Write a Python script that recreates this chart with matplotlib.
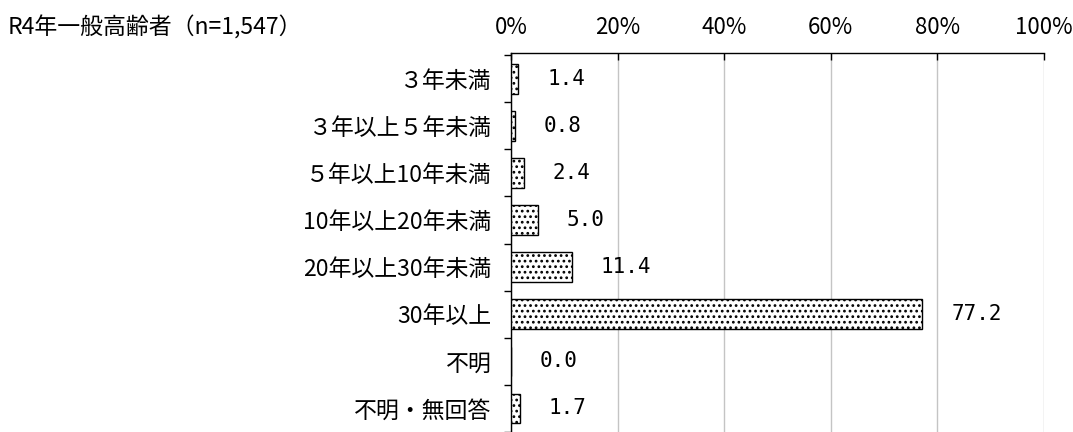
import matplotlib
matplotlib.use("Agg")
import matplotlib.pyplot as plt
from matplotlib import font_manager
import numpy as np

categories = ["３年未満", "３年以上５年未満", "５年以上10年未満", "10年以上20年未満",
              "20年以上30年未満", "30年以上", "不明", "不明・無回答"]
values = [1.4, 0.8, 2.4, 5.0, 11.4, 77.2, 0.0, 1.7]
xticks = [0, 20, 40, 60, 80, 100]
xtick_labels = ["0%", "20%", "40%", "60%", "80%", "100%"]
title = "R4年一般高齢者（n=1,547）"

plt.rcParams['font.family'] = ['Noto Sans CJK JP', 'DejaVu Sans']
plt.rcParams['hatch.color'] = '#808080'
plt.rcParams['hatch.linewidth'] = 1.2

names = {f.name for f in font_manager.fontManager.ttflist}
narrow = 'Liberation Sans Narrow' if 'Liberation Sans Narrow' in names else 'Noto Sans CJK JP'

W, H = 1073, 432
fig = plt.figure(figsize=(W / 100, H / 100), dpi=100)
ax = fig.add_axes([511 / W, 0, (1044 - 511) / W, 1 - 53 / H])

y = np.arange(len(categories))
ax.barh(y, values, height=0.63, color='white', edgecolor='black', linewidth=1.0,
        hatch='...', zorder=3)

for yi, v in zip(y, values):
    ax.text(v + 5.4, yi, f"{v:.1f}", va='center', ha='left', fontsize=15,
            family=['DejaVu Sans Mono'], zorder=4)

ax.set_xlim(0, 100)
ax.set_ylim(7.42, -0.546)
ax.xaxis.tick_top()
ax.set_xticks(xticks)
ax.set_xticklabels(xtick_labels, fontsize=16, family=[narrow, 'DejaVu Sans'])
ax.tick_params(axis='x', direction='in', length=5, pad=10, width=1)
ax.set_yticks(y)
ax.set_yticklabels(categories, fontsize=16.5)
ax.tick_params(axis='y', which='major', length=0, pad=14)
ax.set_yticks(np.arange(-0.5, len(categories), 1.0), minor=True)
ax.tick_params(axis='y', which='minor', length=5, direction='out', width=1)

ax.grid(axis='x', color='#c4c4c4', linewidth=1, zorder=0)
ax.set_axisbelow(True)
for s in ['right', 'bottom']:
    ax.spines[s].set_visible(False)
ax.spines['left'].set_linewidth(1)
ax.spines['top'].set_linewidth(1)

fig.text(8 / W, 1 - 28 / H, title, va='center', ha='left', fontsize=16.5)

fig.savefig("out.png", dpi=100)
